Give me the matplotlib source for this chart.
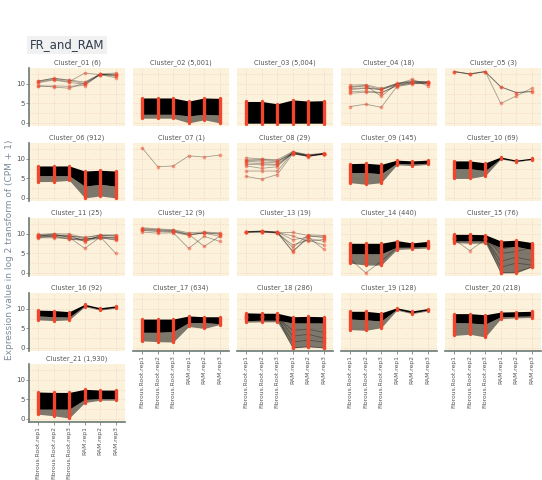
import matplotlib
matplotlib.use("Agg")
import matplotlib.pyplot as plt
import numpy as np

samples = ["Fibrous.Root.rep1", "Fibrous.Root.rep2", "Fibrous.Root.rep3",
           "RAM.rep1", "RAM.rep2", "RAM.rep3"]
cluster_sizes = [6, 5001, 5004, 18, 3, 912, 1, 29, 145, 69, 25, 9, 19, 440, 76,
                 92, 634, 286, 128, 218, 1930]

# dense clusters: top / bottom of the solid core, and how far the thin tail reaches
band_top = {
    2: [6.4, 6.4, 6.4, 5.6, 6.4, 6.3],
    3: [5.5, 5.5, 4.9, 5.9, 5.6, 5.7],
    6: [8.2, 8.2, 8.2, 6.9, 7.1, 6.9],
    9: [8.8, 8.9, 8.6, 9.7, 9.5, 9.7],
    10: [9.5, 9.5, 9.0, 10.5, 9.7, 10.2],
    14: [7.6, 7.6, 7.6, 8.3, 7.7, 8.1],
    15: [9.9, 9.9, 9.8, 8.2, 8.4, 7.8],
    16: [9.7, 9.6, 9.3, 11.2, 10.3, 10.8],
    17: [7.4, 7.4, 7.4, 8.2, 8.0, 8.0],
    18: [9.0, 8.9, 8.9, 8.0, 8.1, 8.0],
    19: [9.4, 9.4, 9.0, 10.3, 9.5, 10.1],
    20: [8.8, 8.8, 8.5, 9.2, 9.3, 9.4],
    21: [6.9, 6.8, 6.8, 7.6, 7.4, 7.4],
}
band_bottom = {
    2: [2.2, 2.2, 2.2, 1.8, 2.2, 2.0],
    3: [0.0, 0.0, 0.0, 0.0, 0.0, 0.0],
    6: [5.7, 5.7, 5.7, 3.0, 3.5, 3.0],
    9: [6.5, 6.5, 6.2, 8.9, 8.7, 8.9],
    10: [7.5, 7.5, 7.0, 10.1, 9.4, 9.9],
    14: [4.9, 4.9, 4.9, 6.6, 6.6, 6.8],
    15: [8.2, 8.2, 8.2, 6.5, 6.8, 6.0],
    16: [8.2, 8.0, 7.9, 10.8, 9.9, 10.4],
    17: [4.0, 4.0, 4.2, 6.5, 6.5, 6.2],
    18: [7.0, 7.1, 7.1, 6.4, 6.4, 6.4],
    19: [7.4, 7.2, 6.9, 9.9, 9.0, 9.7],
    20: [6.5, 6.4, 6.1, 8.0, 8.1, 8.2],
    21: [2.5, 2.5, 2.5, 5.0, 5.2, 5.2],
}
band_tail = {
    2: [1.2, 1.2, 1.2, 0.0, 0.8, 0.0],
    3: [-0.2, -0.2, -0.2, -0.2, -0.2, -0.2],
    6: [4.2, 4.2, 4.5, 0.0, 0.5, 0.0],
    9: [3.9, 3.5, 3.9, 8.5, 8.3, 8.6],
    10: [5.0, 5.0, 5.7, 10.0, 9.3, 9.8],
    14: [2.5, 2.0, 2.0, 6.0, 6.2, 6.4],
    15: [7.8, 7.6, 7.7, 0.0, 0.0, 1.5],
    16: [7.2, 7.0, 7.2, 10.6, 9.7, 10.2],
    17: [1.8, 1.6, 1.5, 5.5, 5.0, 6.0],
    18: [6.6, 6.7, 6.7, 0.0, 0.3, 0.0],
    19: [4.7, 4.5, 5.2, 9.7, 8.8, 9.5],
    20: [3.2, 3.5, 2.8, 7.5, 7.7, 7.8],
    21: [1.2, 0.8, 0.2, 4.2, 4.8, 4.8],
}

# individual gene profiles
profiles = {
    1: [[10.8, 11.4, 10.9, 10.1, 12.5, 12.2],
        [10.3, 11.0, 10.4, 9.9, 12.4, 12.0],
        [9.6, 9.2, 8.9, 10.3, 12.4, 11.6],
        [10.5, 11.2, 10.6, 12.8, 12.4, 12.5],
        [9.4, 9.5, 9.4, 9.6, 12.5, 12.3],
        [10.7, 11.5, 11.0, 10.5, 12.6, 12.8]],
    4: [[9.7, 9.8, 8.9, 10.0, 10.6, 10.4],
        [9.1, 9.5, 8.6, 10.2, 10.8, 10.5],
        [8.5, 8.9, 8.5, 9.8, 10.4, 10.3],
        [8.0, 8.2, 7.8, 9.6, 10.3, 10.1],
        [7.6, 7.9, 7.7, 9.5, 10.2, 10.2],
        [4.2, 4.8, 4.0, 9.3, 10.0, 10.4],
        [9.3, 9.6, 6.8, 10.1, 10.5, 10.6],
        [8.8, 9.0, 8.6, 9.9, 11.2, 9.5]],
    5: [[13.2, 12.6, 13.2, 9.3, 7.8, 8.0],
        [13.2, 12.6, 13.2, 5.0, 6.9, 8.9],
        [13.1, 12.5, 13.1, 9.2, 7.8, 8.1]],
    7: [[12.8, 8.0, 8.2, 10.8, 10.5, 11.0]],
    8: [[9.8, 9.6, 9.3, 11.8, 11.0, 11.4],
        [9.4, 9.2, 9.0, 11.6, 10.8, 11.3],
        [9.0, 8.8, 8.6, 11.5, 10.7, 11.2],
        [8.6, 8.5, 8.4, 11.4, 10.9, 11.3],
        [10.3, 10.0, 9.8, 11.9, 11.1, 11.5],
        [6.9, 6.9, 6.9, 11.6, 10.8, 11.4],
        [5.5, 4.8, 6.0, 11.3, 10.7, 11.2],
        [8.2, 7.6, 8.0, 11.7, 10.9, 11.3],
        [9.6, 9.9, 9.5, 11.4, 10.6, 11.4]],
    11: [[9.9, 10.1, 10.0, 9.0, 9.8, 9.6],
         [9.5, 9.8, 9.2, 8.4, 9.4, 9.0],
         [9.2, 9.4, 9.6, 8.8, 9.0, 9.2],
         [9.0, 9.0, 8.8, 8.2, 8.9, 8.6],
         [9.7, 9.6, 9.4, 9.2, 9.6, 9.8],
         [9.4, 10.0, 9.1, 6.3, 9.2, 8.8],
         [9.3, 9.2, 9.0, 8.6, 9.3, 5.0],
         [9.8, 9.7, 9.7, 8.0, 9.7, 9.4],
         [9.1, 9.5, 8.6, 8.6, 9.1, 8.4]],
    12: [[11.6, 11.3, 11.1, 10.3, 10.5, 10.3],
         [11.2, 11.0, 10.8, 9.8, 10.2, 9.4],
         [10.9, 10.6, 10.5, 9.6, 10.4, 9.9],
         [10.5, 10.2, 10.3, 6.3, 9.4, 8.1],
         [11.0, 10.8, 10.6, 9.9, 6.8, 9.4],
         [11.4, 11.1, 10.9, 10.0, 10.2, 10.1]],
    13: [[10.6, 10.7, 10.4, 5.4, 9.4, 9.4],
         [10.5, 10.6, 10.3, 5.6, 8.9, 8.1],
         [10.4, 10.5, 10.2, 7.2, 8.4, 7.2],
         [10.6, 10.6, 10.5, 8.5, 9.2, 6.1],
         [10.5, 10.7, 10.4, 9.5, 8.1, 8.6],
         [10.4, 10.5, 10.3, 10.4, 9.6, 9.0],
         [10.6, 10.8, 10.5, 6.5, 9.8, 9.6]],
    14: [[3.5, 0.0, 3.0, 6.5, 6.6, 6.8]],
    15: [[9.0, 9.1, 9.0, 5.0, 5.5, 6.5],
         [8.8, 8.9, 8.9, 3.0, 4.0, 3.2],
         [9.2, 9.1, 9.0, 1.5, 2.5, 2.0],
         [9.0, 9.0, 8.8, 0.0, 0.2, 1.5],
         [8.6, 5.7, 8.6, 6.0, 7.0, 6.8]],
    18: [[8.0, 8.1, 8.0, 0.0, 0.3, 0.0],
         [7.8, 7.9, 7.9, 1.5, 2.0, 1.5],
         [8.2, 8.3, 8.2, 3.0, 3.5, 2.5],
         [7.9, 7.9, 7.8, 4.5, 4.8, 4.0]],
}

RED = "#f2452b"
PANEL = "#fcf1da"
GRID = "#f0d3c2"
AXIS = "#6b7a76"

W, H = 542, 480
fig = plt.figure(figsize=(W / 100, H / 100), dpi=100)

col_left = [29, 133, 237, 341, 445]
row_top = [68, 143, 218, 293, 364]
pw, ph = 96, 58
x = np.arange(1, len(samples) + 1)

for idx, n in enumerate(cluster_sizes):
    k = idx + 1
    r, c = divmod(idx, 5)
    ax = fig.add_axes([col_left[c] / W, 1 - (row_top[r] + ph) / H, pw / W, ph / H])
    ax.set_facecolor(PANEL)
    ax.set_xlim(0.4, 6.6)
    ax.set_ylim(-0.8, 14.1)
    ax.set_xticks(x)
    ax.set_yticks([0, 5, 10])
    ax.set_yticks([2.5, 7.5, 12.5], minor=True)
    ax.grid(which="both", color=GRID, lw=0.5, ls=(0, (2, 2)))
    ax.set_axisbelow(True)
    for s in ax.spines.values():
        s.set_visible(False)

    if k in band_top:
        ax.fill_between(x, band_tail[k], band_bottom[k], color="black", alpha=0.5, lw=0)
        ax.fill_between(x, band_bottom[k], band_top[k], color="black", lw=0)
    for p in profiles.get(k, []):
        ax.plot(x, p, color="black", alpha=0.35, lw=0.6)
        ax.scatter(x, p, s=7, color=RED, alpha=0.5, lw=0, zorder=3)
    if k in band_top:
        ax.vlines(x, band_tail[k], band_top[k], color=RED, lw=2.4,
                  capstyle="round", zorder=4)

    ax.set_title(f"Cluster_{k:02d} ({n:,})", fontsize=4.8, color="#555555", pad=2.5)

    is_bottom = (r == 3 and c > 0) or r == 4
    if c == 0:
        ax.spines["left"].set_visible(True)
        ax.spines["left"].set_color(AXIS)
        ax.spines["left"].set_linewidth(1.2)
        ax.tick_params(axis="y", length=2, width=0.5, color="#666666",
                       labelsize=5, labelcolor="#555555", pad=1)
    else:
        ax.tick_params(axis="y", left=False, labelleft=False)
    ax.tick_params(axis="y", which="minor", left=False)

    if is_bottom:
        ax.spines["bottom"].set_visible(True)
        ax.spines["bottom"].set_color(AXIS)
        ax.spines["bottom"].set_linewidth(1.2)
        ax.set_xticklabels(samples, rotation=90, fontsize=4.3, color="#555555")
        ax.tick_params(axis="x", length=2, width=0.5, color="#666666", pad=1)
    else:
        ax.tick_params(axis="x", bottom=False, labelbottom=False)

fig.text(30 / W, 1 - 45 / H, "FR_and_RAM", fontsize=8.5, color="#2f3d4c",
         ha="left", va="center",
         bbox=dict(facecolor="#f1f1f1", edgecolor="none", pad=2))
fig.text(10 / W, 1 - 250 / H, "Expression value in log 2 transform of (CPM + 1)",
         rotation=90, fontsize=6.5, color="#7d8b99", ha="center", va="center")

fig.savefig("out.png", dpi=100)
